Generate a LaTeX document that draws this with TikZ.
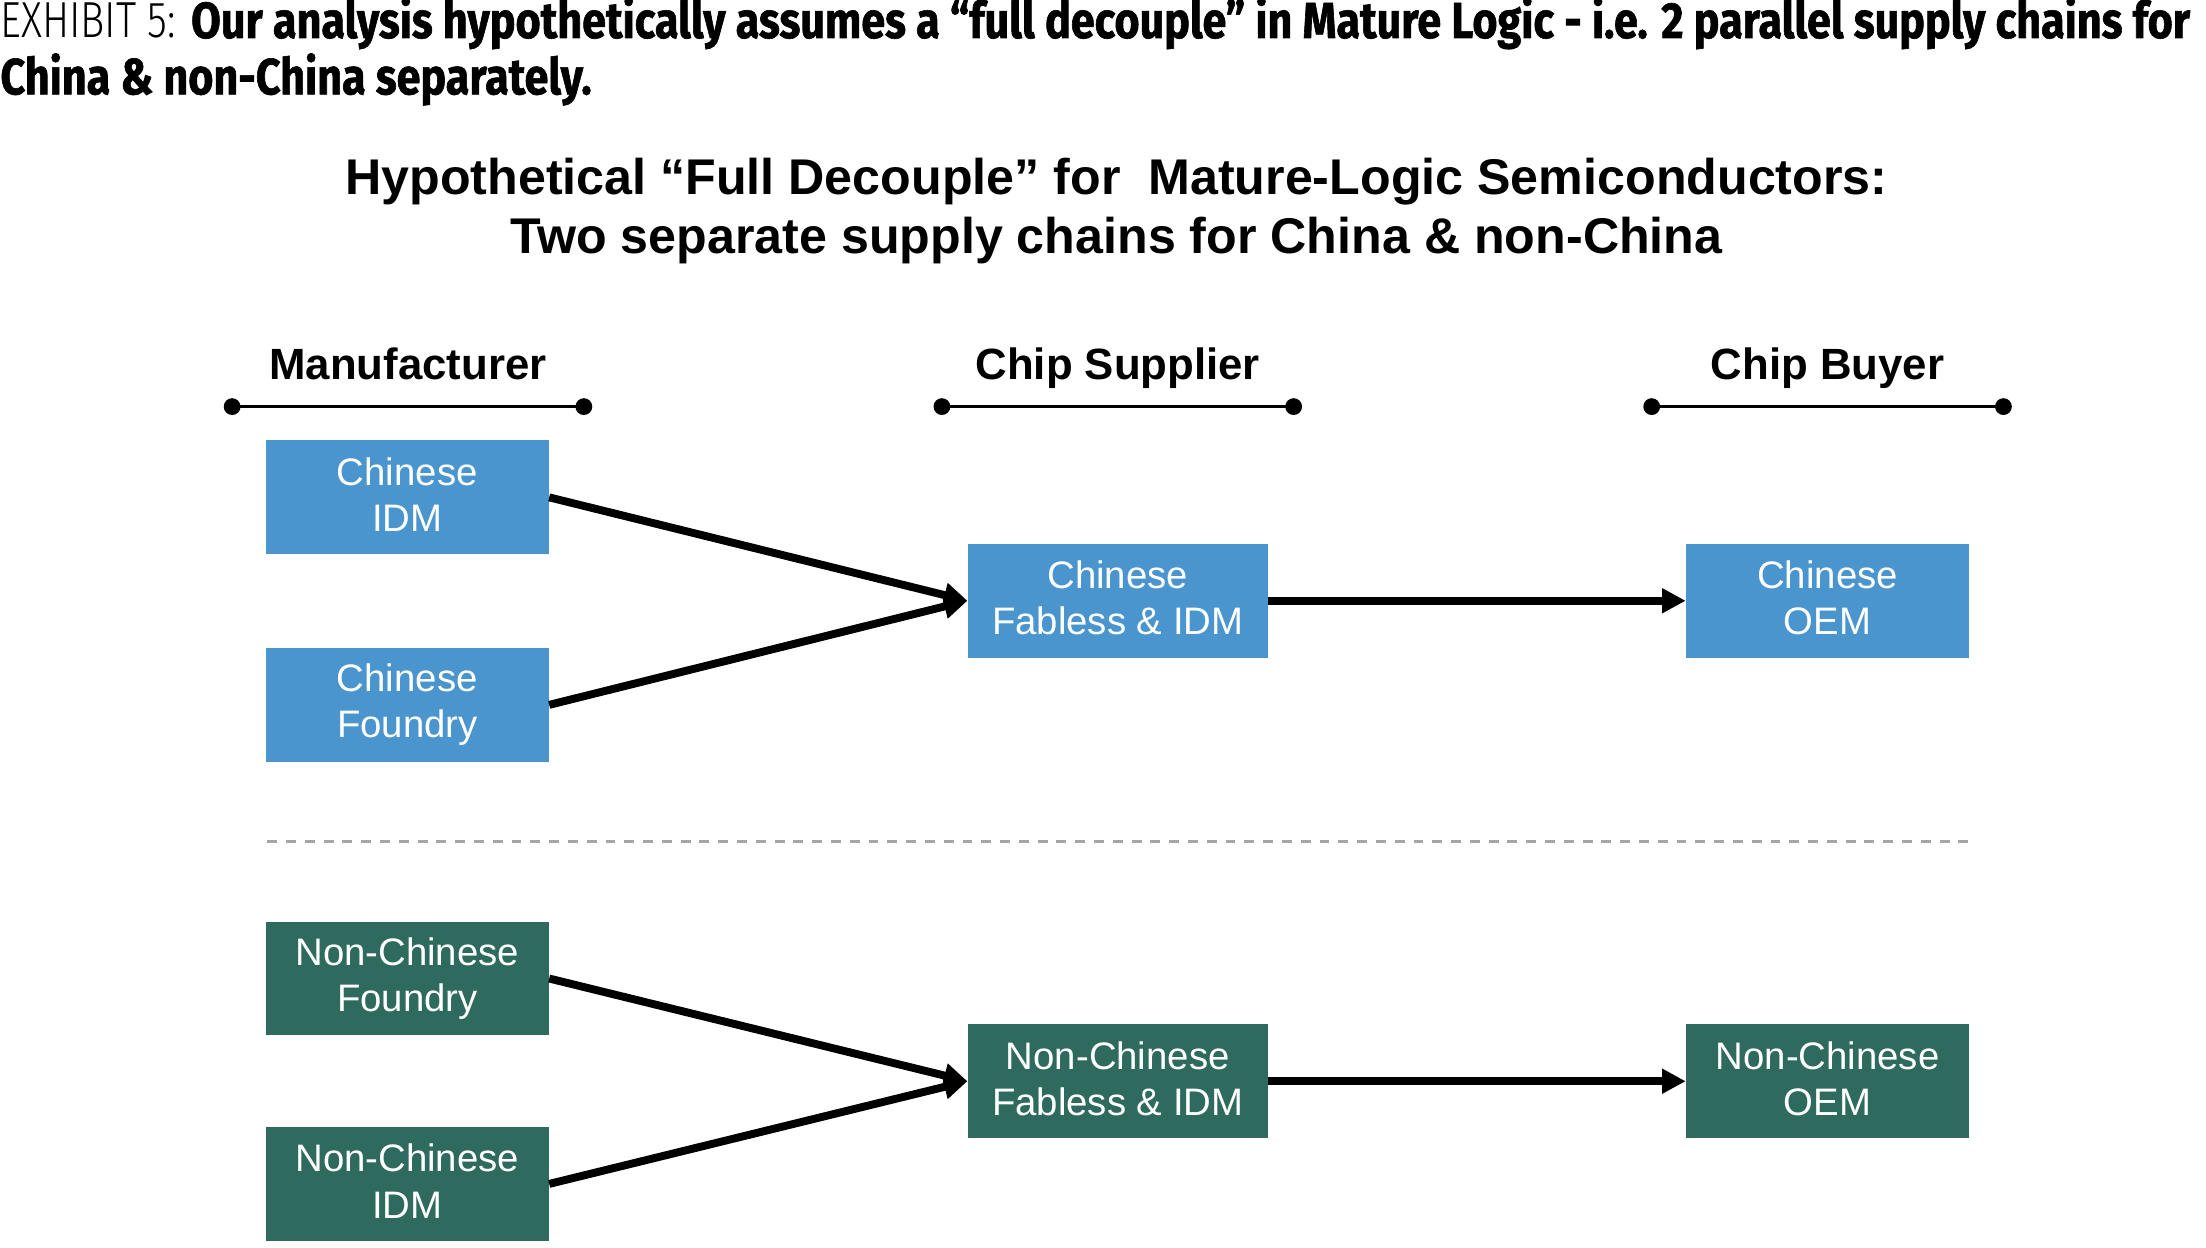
\documentclass[tikz,border=0pt]{standalone}
\usepackage{fontspec}
\setmainfont{Liberation Sans}
\newfontfamily\exhfont[FakeStretch=0.85,BoldFeatures={FakeBold=1.2}]{Fira Sans}
\newfontfamily\exhlight[FakeStretch=0.80]{Fira Sans Light}
\usepackage{tikz}
\usepackage{xcolor}
\usetikzlibrary{arrows.meta,positioning}
\definecolor{chnblue}{HTML}{4A95CD}
\definecolor{nongreen}{HTML}{2F6A5E}
\definecolor{sepgray}{HTML}{A6A6A6}
\tikzset{
  exhibit/.style={inner sep=0pt,font=\exhfont\fontsize{20.5pt}{23pt}\selectfont},
  charttitle/.style={align=center,inner sep=0pt,
                     font=\bfseries\fontsize{20.3pt}{23.8pt}\selectfont},
  colhead/.style={inner sep=0pt,anchor=base,font=\bfseries\fontsize{17.7pt}{21pt}\selectfont},
  ruler/.style={line width=1.4pt,color=black},
  chainbox/.style={minimum width=4.02cm,minimum height=1.62cm,inner sep=0pt,
                   align=center,text=white,
                   font=\fontsize{15.5pt}{18.7pt}\selectfont,
                   execute at begin node={\rule{0pt}{16pt}},
                   execute at end node={\rule[-2.3pt]{0pt}{2.3pt}}},
  cnbox/.style={chainbox,fill=chnblue},
  ncbox/.style={chainbox,fill=nongreen},
  flowarr/.style={-{Triangle[length=9.5pt,width=9.5pt]},line width=3.2pt},
  seprule/.style={color=sepgray,line width=1.2pt,dash pattern=on 4pt off 3.6pt}
}

\begin{document}
\begin{tikzpicture}
  \useasboundingbox (0,0) rectangle (31.36,-17.74);
  % caption above the chart
  \node[exhibit,anchor=base west] (capA) at (0,-0.54)
    {{\exhlight EXHIBIT 5:} \bfseries Our analysis hypothetically assumes a “full decouple” in Mature Logic - i.e. 2 parallel supply chains for};
  \node[exhibit,anchor=base west] (capB) at (0,-1.34)
    {\bfseries China \& non-China separately.};
  \node[charttitle] (title) at (15.87,-3.00)
    {Hypothetical “Full Decouple” for\ \ Mature-Logic Semiconductors:\\
     Two separate supply chains for China \& non-China};
  % column heads
  \foreach \name/\lbl/\x in {manu/Manufacturer/5.80,supp/Chip Supplier/15.89,buyer/Chip Buyer/25.98} {
    \node[colhead] (\name) at (\x,-5.40) {\lbl};
    \coordinate (\name-l) at (\x-2.5,-5.78);
    \coordinate (\name-r) at (\x+2.5,-5.78);
    \draw[ruler] (\name-l) -- (\name-r);
    \fill (\name-l) circle (3.4pt) (\name-r) circle (3.4pt);
  }
  % China chain
  \node[cnbox] (cidm) at (5.79,-7.07) {Chinese\\IDM};
  \node[cnbox] (cfdy) at (5.79,-10.02) {Chinese\\Foundry};
  \node[cnbox,minimum width=4.26cm] (cfab) at (15.89,-8.54) {Chinese\\Fabless \& IDM};
  \node[cnbox] (coem) at (25.98,-8.54) {Chinese\\OEM};
  \draw[flowarr] (cidm.east) -- (cfab.west);
  \draw[flowarr] (cfdy.east) -- (cfab.west);
  \draw[flowarr] (cfab.east) -- (coem.west);
  % separator
  \coordinate (sep-l) at (3.80,-11.96);
  \coordinate (sep-r) at (28.00,-11.96);
  \draw[seprule] (sep-l) -- (sep-r);
  % non-China chain
  \node[ncbox] (nfdy) at (5.79,-13.91) {Non-Chinese\\Foundry};
  \node[ncbox] (nidm) at (5.79,-16.83) {Non-Chinese\\IDM};
  \node[ncbox,minimum width=4.26cm] (nfab) at (15.89,-15.37) {Non-Chinese\\Fabless \& IDM};
  \node[ncbox] (noem) at (25.98,-15.37) {Non-Chinese\\OEM};
  \draw[flowarr] (nfdy.east) -- (nfab.west);
  \draw[flowarr] (nidm.east) -- (nfab.west);
  \draw[flowarr] (nfab.east) -- (noem.west);
\end{tikzpicture}
\end{document}
